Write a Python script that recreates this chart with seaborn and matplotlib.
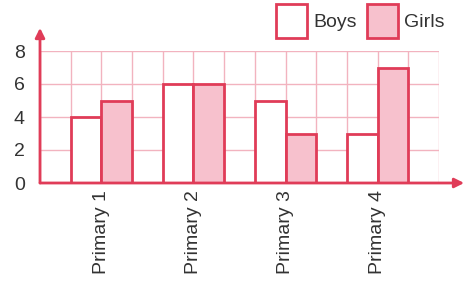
import matplotlib
matplotlib.use("Agg")
import matplotlib.pyplot as plt
from matplotlib.patches import Patch
import numpy as np
import pandas as pd
import seaborn as sns

# data
grades = ["Primary 1", "Primary 2", "Primary 3", "Primary 4"]
boys = [4, 6, 5, 3]
girls = [5, 6, 3, 7]
y_ticks = [0, 2, 4, 6, 8]

red = "#e03c58"
pink = "#f7c1cd"
grid_pink = "#f2b3bf"

df = pd.DataFrame({
    "grade": grades * 2,
    "count": boys + girls,
    "sex": ["Boys"] * len(boys) + ["Girls"] * len(girls),
})

sns.set_style("white")
plt.rcParams["font.family"] = ["Liberation Sans", "DejaVu Sans"]

fig = plt.figure(figsize=(4.69, 2.81), dpi=100)
ax = fig.add_axes([40 / 469, 1 - 183 / 281, 399 / 469, 132 / 281])

sns.barplot(data=df, x="grade", y="count", hue="sex",
            palette={"Boys": "white", "Girls": pink},
            width=2 / 3, edgecolor=red, linewidth=2, saturation=1,
            legend=False, ax=ax, zorder=3)

# squared paper background: one square per bar width
ax.set_xlim(-2 / 3, 3 + 2 / 3)
ax.set_ylim(0, 8)
ax.vlines(np.arange(-2 / 3, 3.7, 1 / 3), 0, 8, color=grid_pink, lw=1, zorder=1)
ax.hlines(y_ticks, -2 / 3, 3 + 2 / 3, color=grid_pink, lw=1, zorder=1)
ax.set_yticks(y_ticks)

ax.set_xlabel("")
ax.set_ylabel("")
ax.set_xticks(range(len(grades)))
ax.set_xticklabels(grades, rotation=90, fontsize=14, color="#333333")
ax.tick_params(axis="x", which="both", length=0, pad=5)
ax.tick_params(axis="y", length=0, pad=11, labelsize=14, labelcolor="#333333")

for side in ["left", "bottom", "top", "right"]:
    ax.spines[side].set_visible(False)

# axis arrows
arrow = dict(arrowstyle="-|>", color=red, lw=2, mutation_scale=14,
             shrinkA=0, shrinkB=0)
ax.annotate("", xy=(0, 1.175), xytext=(0, 0), xycoords="axes fraction",
            arrowprops=arrow, annotation_clip=False)
ax.annotate("", xy=(1.063, 0), xytext=(0, 0), xycoords="axes fraction",
            arrowprops=arrow, annotation_clip=False)

handles = [Patch(facecolor="white", edgecolor=red, lw=2, label="Boys"),
           Patch(facecolor=pink, edgecolor=red, lw=2, label="Girls")]
fig.legend(handles=handles, ncol=2, loc="upper left",
           bbox_to_anchor=(276 / 469, 1 - 4 / 281), frameon=False,
           fontsize=14, handlelength=1.6, handleheight=2.3,
           handletextpad=0.3, columnspacing=0.55, borderpad=0,
           borderaxespad=0, labelcolor="#333333")

fig.savefig("out.png", dpi=100)
